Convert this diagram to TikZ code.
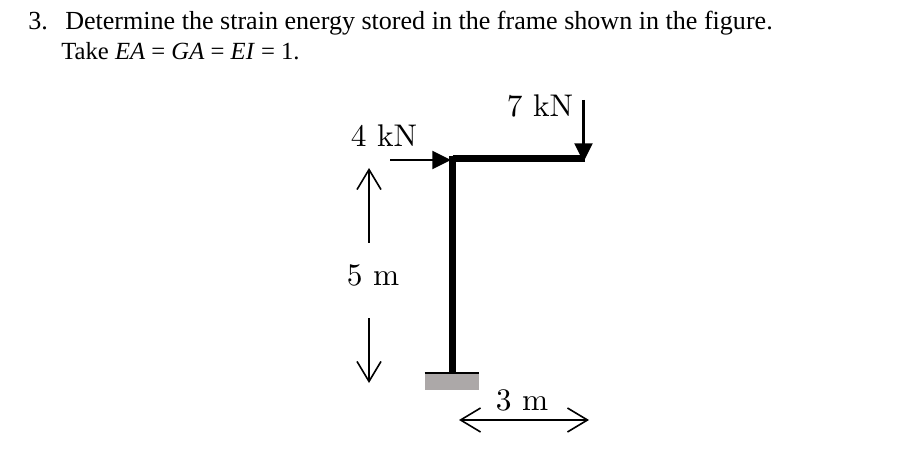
\documentclass[tikz,border=0pt]{standalone}
\usepackage{fontspec}
\setmainfont{Liberation Serif}
\newfontfamily\lmfont[Extension=.otf]{lmroman10-regular}
\usetikzlibrary{arrows.meta}
\definecolor{basegray}{RGB}{172,168,168}
\tikzset{
	heading/.style={anchor=base west, inner sep=0pt},
	dimlabel/.style={inner sep=0pt, font=\lmfont\fontsize{23.5}{24}\selectfont},
	member/.style={line width=5.2pt},
	force/.style={line width=1.6pt, -{Triangle[length=14pt,width=13.5pt]}},
	barb/.tip={Straight Barb[length=15pt,width=18pt,line width=1.2pt]},
	dimline/.style={line width=1.2pt},
}
\begin{document}
\begin{tikzpicture}[x=0.75pt, y=-0.75pt]
	\useasboundingbox (0,0) rectangle (899,452);
	\node[heading, font=\fontsize{19.55}{20}\selectfont] (num) at (28,30){3.};
	\node[heading, font=\fontsize{19.55}{20}\selectfont] (lineA) at (65,30){Determine the strain energy stored in the frame shown in the figure.};
	\node[heading, font=\fontsize{18.5}{20}\selectfont] (lineB) at (61,60){Take \textit{EA} = \textit{GA} = \textit{EI} = 1.};
	\node[dimlabel] (load4) at (384,136){4 kN};
	\node[dimlabel] (load7) at (540,106){7 kN};
	\node[dimlabel] (len5) at (373,275){5 m};
	\node[dimlabel] (len3) at (522,400){3 m};
	\node[fill=basegray, minimum width=40.5pt, minimum height=12.75pt, inner sep=0pt] (base) at (452,381.5){};
	\coordinate (corner) at (452.5,158.5);
	\coordinate (top) at (452.5,156);
	\coordinate (tip) at (585,158.5);
	\coordinate (foot) at (452.5,373);
	\draw[line width=1.5pt] (base.north west) -- (base.north east);
	\draw[member] (foot) -- (top);
	\draw[member] (corner) -- (tip);
	\coordinate (loadA) at (390,160);
	\coordinate (loadAend) at (451,160);
	\coordinate (loadB) at (583.5,100);
	\coordinate (loadBend) at (583.5,162);
	\draw[force] (loadA) -- (loadAend);
	\draw[force] (loadB) -- (loadBend);
	\coordinate (upA) at (369,243);
	\coordinate (upB) at (369,168);
	\coordinate (downA) at (369,318);
	\coordinate (downB) at (369,383);
	\coordinate (spanA) at (459,420);
	\coordinate (spanB) at (589,420);
	\draw[dimline, -{barb}] (upA) -- (upB);
	\draw[dimline, -{barb}] (downA) -- (downB);
	\draw[dimline, {barb}-{barb}] (spanA) -- (spanB);
\end{tikzpicture}
\end{document}
